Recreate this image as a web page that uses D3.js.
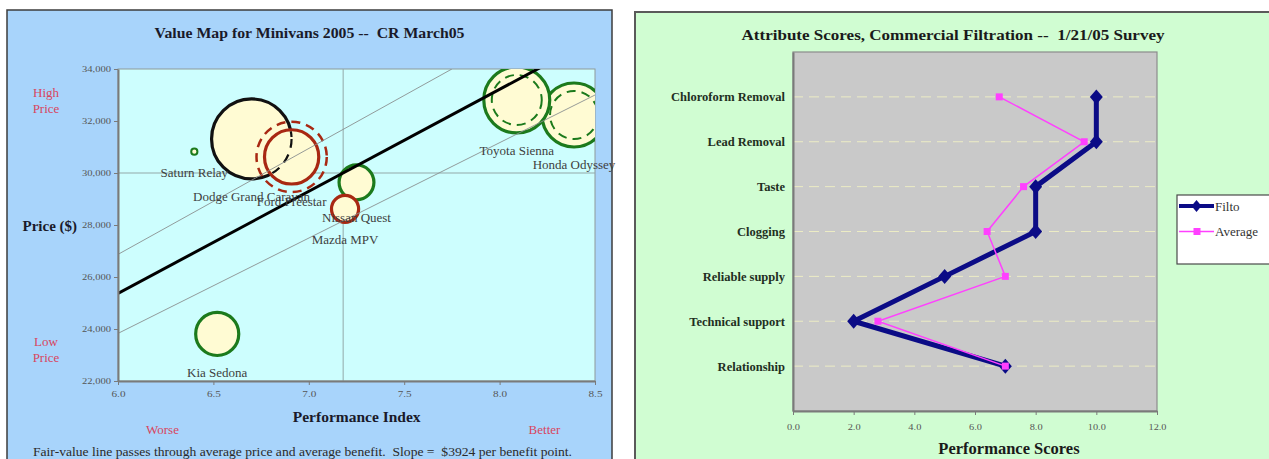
<!DOCTYPE html>
<html><head><meta charset="utf-8">
<script src="https://cdn.jsdelivr.net/npm/d3@7/dist/d3.min.js"></script>
<style>
body{margin:0;background:#fff;}
svg{display:block;font-family:"Liberation Serif","Times New Roman",serif;}
text{white-space:pre;}
</style>
</head><body>
<svg id="c" width="1269" height="459"></svg>
<script>
// ===== Left chart data: Value Map for Minivans =====
const vehicles    = ["Saturn Relay","Dodge Grand Caravan","Ford Freestar","Nissan Quest","Mazda MPV","Kia Sedona","Honda Odyssey","Toyota Sienna"];
const performance = [6.40, 6.70, 6.91, 7.25, 7.19, 6.52, 8.39, 8.09];
const price       = [30820, 31310, 30620, 29640, 28620, 23810, 32230, 32810];
const volume      = [0.6, 100, 46, 19, 11.5, 29, 64, 68];
const rating      = ["good","reference","poor","good","poor","good","good","good"];
const ringType    = ["none","none","outer","none","none","none","inner","inner"];
const priceTicks  = [22000, 24000, 26000, 28000, 30000, 32000, 34000];
const perfTicks   = [6.0, 6.5, 7.0, 7.5, 8.0, 8.5];
const avgPerformance = 7.18;
const avgPrice       = 30000;
const slope          = 3924;
const bandUpper      = [[6.0, 26870], [7.75, 34000]];
const bandLower      = [[6.0, 23830], [8.5, 33000]];

// ===== Right chart data: Attribute Scores =====
const attributes = ["Chloroform Removal","Lead Removal","Taste","Clogging","Reliable supply","Technical support","Relationship"];
const filto      = [10, 10, 8, 8, 5, 2, 7];
const average    = [6.8, 9.6, 7.6, 6.4, 7.0, 2.8, 7.0];
const scoreTicks = [0, 2, 4, 6, 8, 10, 12];

const svg = d3.select("#c");
const defs = svg.append("defs");

// ---------------- LEFT PANEL ----------------
const L = svg.append("g");
L.append("rect").attr("x",7).attr("y",10).attr("width",605).attr("height",470)
  .attr("fill","#a8d4fb").attr("stroke","#3c3c3c").attr("stroke-width",1.5);

const xL = d3.scaleLinear().domain([6.0, 8.5]).range([118, 595]);
const yL = d3.scaleLinear().domain([22000, 34000]).range([381, 69]);
const rL = d3.scaleSqrt().domain([0, 100]).range([0, 40]);

L.append("rect").attr("x",xL(6)).attr("y",yL(34000)).attr("width",xL(8.5)-xL(6)).attr("height",yL(22000)-yL(34000))
  .attr("fill","#cdfefe").attr("stroke","#8e9a9a").attr("stroke-width",1);

defs.append("clipPath").attr("id","plotL").append("rect")
  .attr("x",xL(6)).attr("y",yL(34000)).attr("width",xL(8.5)-xL(6)).attr("height",yL(22000)-yL(34000));

const plotL = L.append("g").attr("clip-path","url(#plotL)");
plotL.append("line").attr("x1",xL(avgPerformance)).attr("x2",xL(avgPerformance)).attr("y1",yL(34000)).attr("y2",yL(22000))
  .attr("stroke","#93a8a8").attr("stroke-width",1);
plotL.append("line").attr("x1",xL(6)).attr("x2",xL(8.5)).attr("y1",yL(avgPrice)).attr("y2",yL(avgPrice))
  .attr("stroke","#93a8a8").attr("stroke-width",1);

const colorOf = {good:"#1c7a1c", reference:"#111111", poor:"#a82812"};
const data = vehicles.map((v,i)=>({name:v, x:performance[i], y:price[i], r:rL(volume[i]), rating:rating[i], ring:ringType[i]}));
const fill = "#fffbd3";

data.forEach(d=>{
  const g = plotL.append("g");
  const cx = xL(d.x), cy = yL(d.y);
  if (d.ring === "outer") {
    g.append("circle").attr("cx",cx).attr("cy",cy).attr("r",d.r+8)
      .attr("fill","none").attr("stroke",colorOf[d.rating]).attr("stroke-width",2.5).attr("stroke-dasharray","9,6");
  }
  g.append("circle").attr("cx",cx).attr("cy",cy).attr("r",d.r)
    .attr("fill",fill).attr("stroke",colorOf[d.rating]).attr("stroke-width",d.r<6?2:3.2);
  if (d.ring === "inner") {
    g.append("circle").attr("cx",cx).attr("cy",cy).attr("r",d.r-8)
      .attr("fill","none").attr("stroke",colorOf[d.rating]).attr("stroke-width",2).attr("stroke-dasharray","9,6");
  }
});
const ref = data.find(d=>d.rating==="reference");
const ford = data.find(d=>d.ring==="outer");
defs.append("clipPath").attr("id","fordClip").append("circle")
  .attr("cx",xL(ford.x)).attr("cy",yL(ford.y)).attr("r",ford.r-1.5);
plotL.append("circle").attr("clip-path","url(#fordClip)")
  .attr("cx",xL(ref.x)).attr("cy",yL(ref.y)).attr("r",ref.r)
  .attr("fill","none").attr("stroke","#111").attr("stroke-width",2.2).attr("stroke-dasharray","9,7");

const lineL = d3.line().x(d=>xL(d[0])).y(d=>yL(d[1]));
plotL.append("path").attr("d",lineL(bandUpper)).attr("stroke","#8a9090").attr("stroke-width",0.9).attr("fill","none");
plotL.append("path").attr("d",lineL(bandLower)).attr("stroke","#8a9090").attr("stroke-width",0.9).attr("fill","none");
const fv = [[6.0, avgPrice + slope*(6.0-avgPerformance)], [8.5, avgPrice + slope*(8.5-avgPerformance)]];
plotL.append("path").attr("d",lineL(fv)).attr("stroke","#000").attr("stroke-width",3).attr("fill","none");

L.append("g").selectAll("text").data(data).join("text")
  .attr("x",d=>xL(d.x)).attr("y",d=>yL(d.y)+d.r+22)
  .attr("text-anchor","middle").attr("font-size",13).attr("fill","#3e3e3e").text(d=>d.name);

const axY = L.append("g").attr("transform",`translate(${xL(6)},0)`)
  .call(d3.axisLeft(yL).tickValues(priceTicks).tickFormat(d3.format(",")).tickSize(4).tickSizeOuter(0));
axY.select(".domain").attr("stroke","#7a7a7a").attr("stroke-width",2);
axY.selectAll(".tick line").attr("stroke","#7a7a7a");
axY.selectAll(".tick text").attr("font-family","Liberation Serif").attr("font-size",8).attr("fill","#555")
  .attr("textLength",29).attr("lengthAdjust","spacingAndGlyphs").attr("x",-7);
const axX = L.append("g").attr("transform",`translate(0,${yL(22000)})`)
  .call(d3.axisBottom(xL).tickValues(perfTicks).tickFormat(d3.format(".1f")).tickSize(4).tickSizeOuter(0));
axX.select(".domain").attr("stroke","#7a7a7a").attr("stroke-width",2);
axX.selectAll(".tick line").attr("stroke","#7a7a7a");
axX.selectAll(".tick text").attr("font-family","Liberation Serif").attr("font-size",8.5).attr("fill","#555")
  .attr("textLength",14).attr("lengthAdjust","spacingAndGlyphs").attr("y",10);

L.append("text").attr("x",309.5).attr("y",37.5).attr("text-anchor","middle").attr("font-weight","bold")
  .attr("font-size",15).attr("fill","#1a1a2a").attr("textLength",310).attr("lengthAdjust","spacingAndGlyphs")
  .text("Value Map for Minivans 2005 --  CR March05");
L.append("text").attr("x",22.5).attr("y",231).attr("font-weight","bold").attr("font-size",15).attr("fill","#1a1a2a")
  .text("Price ($)");
L.append("text").attr("x",356.7).attr("y",422).attr("text-anchor","middle").attr("font-weight","bold")
  .attr("font-size",15.5).attr("fill","#1a1a2a").text("Performance Index");
const red = "#d9455e";
[["High",97],["Price",113],["Low",345.5],["Price",361.5]].forEach(t=>{
  L.append("text").attr("x",46).attr("y",t[1]).attr("text-anchor","middle").attr("font-size",13).attr("fill",red).text(t[0]);
});
L.append("text").attr("x",162.5).attr("y",434).attr("text-anchor","middle").attr("font-size",13).attr("fill",red).text("Worse");
L.append("text").attr("x",544.5).attr("y",434).attr("text-anchor","middle").attr("font-size",13).attr("fill",red).text("Better");
L.append("text").attr("x",33).attr("y",456).attr("font-size",12).attr("fill","#2a2a2a")
  .attr("textLength",539).attr("lengthAdjust","spacingAndGlyphs")
  .text("Fair-value line passes through average price and average benefit.  Slope =  $3924 per benefit point.");

// ---------------- RIGHT PANEL ----------------
const R = svg.append("g");
R.append("rect").attr("x",635).attr("y",12).attr("width",660).attr("height",470)
  .attr("fill","#d0fdd2").attr("stroke","#5a5a5a").attr("stroke-width",2);

const xR = d3.scaleLinear().domain([0, 12]).range([793, 1157]);
const yR = d3.scalePoint().domain(attributes).range([52, 411]).padding(1);

R.append("rect").attr("x",xR(0)).attr("y",52).attr("width",xR(12)-xR(0)).attr("height",411-52)
  .attr("fill","#c9c9c9").attr("stroke","#8c8c8c").attr("stroke-width",1.2);

R.append("g").selectAll("line").data(attributes).join("line")
  .attr("x1",xR(0)).attr("x2",xR(12)).attr("y1",d=>yR(d)).attr("y2",d=>yR(d))
  .attr("stroke","#ececc4").attr("stroke-width",1).attr("stroke-dasharray","10,6");

const axRX = R.append("g").attr("transform","translate(0,411)")
  .call(d3.axisBottom(xR).tickValues(scoreTicks).tickFormat(d3.format(".1f")).tickSize(4).tickSizeOuter(0));
axRX.select(".domain").attr("stroke","#7a7a7a").attr("stroke-width",2);
axRX.selectAll(".tick line").attr("stroke","#7a7a7a");
axRX.selectAll(".tick text").attr("font-family","Liberation Serif").attr("font-size",9).attr("fill","#555")
  .attr("textLength",d=>d>=10?18:13).attr("lengthAdjust","spacingAndGlyphs").attr("y",13);
const axRY = R.append("g").attr("transform",`translate(${xR(0)},0)`)
  .call(d3.axisLeft(yR).tickSize(0).tickSizeOuter(0).tickPadding(8));
axRY.select(".domain").attr("stroke","#7a7a7a").attr("stroke-width",2);
axRY.selectAll(".tick text").attr("font-family","Liberation Serif").attr("font-weight","bold")
  .attr("font-size",12.5).attr("fill","#1f2f22");

const lineR = d3.line().x(d=>xR(d.v)).y(d=>yR(d.a));
const fData = attributes.map((a,i)=>({a, v:filto[i]}));
const aData = attributes.map((a,i)=>({a, v:average[i]}));
const navy = "#0b0b86", mag = "#ff40ff";
R.append("path").attr("d",lineR(fData)).attr("fill","none").attr("stroke",navy).attr("stroke-width",5).attr("stroke-linejoin","round");
R.append("g").selectAll("path").data(fData).join("path")
  .attr("transform",d=>`translate(${xR(d.v)},${yR(d.a)})`)
  .attr("d","M0,-7.5L6.5,0L0,7.5L-6.5,0Z").attr("fill",navy);
R.append("path").attr("d",lineR(aData)).attr("fill","none").attr("stroke",mag).attr("stroke-width",1.5);
R.append("g").selectAll("rect").data(aData).join("rect")
  .attr("x",d=>xR(d.v)-3.5).attr("y",d=>yR(d.a)-3.5).attr("width",7).attr("height",7).attr("fill",mag);

R.append("text").attr("x",953).attr("y",39.5).attr("text-anchor","middle").attr("font-weight","bold")
  .attr("font-size",15).attr("fill","#1a1a1a").attr("textLength",423).attr("lengthAdjust","spacingAndGlyphs")
  .text("Attribute Scores, Commercial Filtration --  1/21/05 Survey");
R.append("text").attr("x",1009).attr("y",454).attr("text-anchor","middle").attr("font-weight","bold")
  .attr("font-size",16.5).attr("fill","#1a1a1a").text("Performance Scores");

const lg = R.append("g");
lg.append("rect").attr("x",1177).attr("y",195).attr("width",120).attr("height",69)
  .attr("fill","#ffffff").attr("stroke","#4a4a4a").attr("stroke-width",1.2);
const legendItems = [{name:"Filto", y:206, c:navy, w:4, m:"diamond"},{name:"Average", y:231.5, c:mag, w:1.5, m:"square"}];
legendItems.forEach(it=>{
  lg.append("line").attr("x1",1179).attr("x2",1214).attr("y1",it.y).attr("y2",it.y).attr("stroke",it.c).attr("stroke-width",it.w);
  if (it.m==="diamond") lg.append("path").attr("transform",`translate(1196.5,${it.y})`).attr("d","M0,-6L5,0L0,6L-5,0Z").attr("fill",it.c);
  else lg.append("rect").attr("x",1193.5).attr("y",it.y-3.5).attr("width",7).attr("height",7).attr("fill",it.c);
  lg.append("text").attr("x",1215).attr("y",it.y+4.5).attr("font-size",13).attr("fill","#333").text(it.name);
});
</script>
</body></html>
